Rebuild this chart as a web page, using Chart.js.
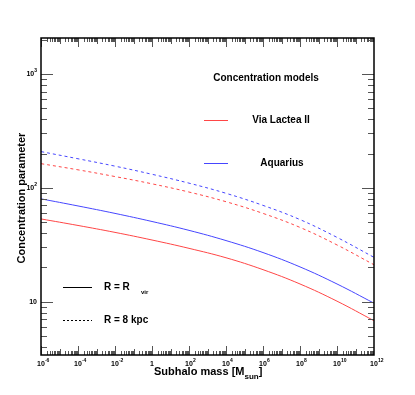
<!DOCTYPE html>
<html>
<head>
<title>Subhalo concentration</title>
<script src="https://cdn.jsdelivr.net/npm/chart.js"></script>
<style>body{margin:0;background:#fff}</style>
</head>
<body>
<canvas id="concChart" width="415" height="395"></canvas>
<script>
// values (mass in solar masses)
var subhaloMass = [1e-6, 1e-4, 1e-2, 1, 1e2, 1e4, 1e6, 1e8, 1e10, 1e12];
var vlRvir = [53.3, 46.7, 40.6, 34.8, 29.4, 24.3, 19.1, 14.3, 10.1, 6.8];
var aqRvir = [80.0, 69.3, 59.6, 50.6, 42.3, 34.4, 27.0, 20.2, 14.3, 9.7];
var vl8kpc = [163, 143.9, 125.6, 108.4, 91.8, 75.5, 59.6, 44.9, 31.5, 21.1];
var aq8kpc = [208, 180, 155, 131.5, 109.9, 89.5, 70.1, 52.6, 36.7, 24.5];
var xLabelExps = [-6, -4, -2, 0, 2, 4, 6, 8, 10, 12];
var yLabelExps = [1, 2, 3];

var red = 'rgb(255,70,70)';
var blue = 'rgb(70,70,255)';
var font = '"Liberation Sans", Arial, sans-serif';

function pts(ys) {
    return subhaloMass.map(function (m, i) { return {x: m, y: ys[i]}; });
}

function drawPow(ctx, exp, x, y, align) {
    ctx.textBaseline = 'middle';
    if (exp === 0) {
        ctx.font = 'bold 7px ' + font;
        ctx.textAlign = 'center';
        ctx.fillText('1', x, y);
        return;
    }
    ctx.font = 'bold 7px ' + font;
    var w1 = ctx.measureText('10').width;
    var sup = exp === 1 ? '' : String(exp);
    ctx.font = 'bold 5px ' + font;
    var w2 = sup ? ctx.measureText(sup).width : 0;
    var x0 = align === 'right' ? x - w1 - w2 : x - w1 / 2;
    ctx.textAlign = 'left';
    ctx.font = 'bold 7px ' + font;
    ctx.fillText('10', x0, y);
    if (sup) {
        ctx.font = 'bold 5px ' + font;
        ctx.fillText(sup, x0 + w1, y - 3);
    }
}

var framePlugin = {
    id: 'frame',
    afterDatasetsDraw: function (chart) {
        var ctx = chart.ctx, a = chart.chartArea;
        var xs = chart.scales.x, ys = chart.scales.y;
        ctx.save();
        // tick marks on all four sides
        ctx.strokeStyle = '#555';
        ctx.lineWidth = 1;
        ctx.beginPath();
        for (var e = -6; e < 12; e++) {
            for (var k = 1; k <= 9; k++) {
                var px = Math.round(xs.getPixelForValue(k * Math.pow(10, e))) + 0.5;
                var len = k === 1 ? (e % 2 === 0 ? 9 : 6) : 4;
                ctx.moveTo(px, a.bottom); ctx.lineTo(px, a.bottom - len);
                ctx.moveTo(px, a.top); ctx.lineTo(px, a.top + len);
            }
        }
        for (var e2 = 0; e2 <= 3; e2++) {
            for (var k2 = 1; k2 <= 9; k2++) {
                var v = k2 * Math.pow(10, e2);
                if (v < ys.min || v > ys.max) continue;
                var py = Math.round(ys.getPixelForValue(v)) + 0.5;
                var l2 = k2 === 1 ? 12 : 6;
                ctx.moveTo(a.left, py); ctx.lineTo(a.left + l2, py);
                ctx.moveTo(a.right, py); ctx.lineTo(a.right - l2, py);
            }
        }
        ctx.stroke();
        ctx.strokeStyle = '#000';
        ctx.lineWidth = 1.5;
        ctx.strokeRect(a.left, a.top, a.right - a.left, a.bottom - a.top);

        // tick labels
        ctx.fillStyle = '#000';
        xLabelExps.forEach(function (e) {
            drawPow(ctx, e, xs.getPixelForValue(Math.pow(10, e)), a.bottom + 9, 'center');
        });
        yLabelExps.forEach(function (e) {
            drawPow(ctx, e, a.left - 4, ys.getPixelForValue(Math.pow(10, e)), 'right');
        });

        // axis titles
        ctx.font = 'bold 11px ' + font;
        ctx.textBaseline = 'middle';
        ctx.textAlign = 'left';
        var t1 = 'Subhalo mass [M';
        var tw = ctx.measureText(t1).width;
        var tx = 154;
        ctx.fillText(t1, tx, 372);
        ctx.font = 'bold 8px ' + font;
        ctx.fillText('sun', tx + tw, 377);
        var sw = ctx.measureText('sun').width;
        ctx.font = 'bold 11px ' + font;
        ctx.fillText(']', tx + tw + sw, 372);

        ctx.save();
        ctx.translate(22, 198);
        ctx.rotate(-Math.PI / 2);
        ctx.textAlign = 'center';
        ctx.fillText('Concentration parameter', 0, 0);
        ctx.restore();

        // legend drawn inside the frame
        ctx.font = 'bold 10px ' + font;
        ctx.textAlign = 'center';
        ctx.fillText('Concentration models', 266, 78);
        ctx.fillText('Via Lactea II', 281, 120);
        ctx.fillText('Aquarius', 282, 163);
        ctx.textAlign = 'left';
        ctx.fillText('R = R', 104, 287);
        ctx.font = 'bold 6px ' + font;
        ctx.fillText('vir', 141, 292);
        ctx.font = 'bold 10px ' + font;
        ctx.fillText('R = 8 kpc', 104, 320);

        ctx.lineWidth = 1;
        ctx.setLineDash([]);
        ctx.strokeStyle = red;
        ctx.beginPath(); ctx.moveTo(204, 120.5); ctx.lineTo(228, 120.5); ctx.stroke();
        ctx.strokeStyle = blue;
        ctx.beginPath(); ctx.moveTo(204, 163.5); ctx.lineTo(228, 163.5); ctx.stroke();
        ctx.strokeStyle = '#000';
        ctx.beginPath(); ctx.moveTo(63, 287.5); ctx.lineTo(92, 287.5); ctx.stroke();
        ctx.setLineDash([2, 2]);
        ctx.beginPath(); ctx.moveTo(63, 320.5); ctx.lineTo(92, 320.5); ctx.stroke();
        ctx.restore();
    }
};

function series(label, ys, color, dashed) {
    return {
        label: label,
        data: pts(ys),
        borderColor: color,
        borderWidth: 1,
        borderDash: dashed ? [3, 3] : [],
        pointRadius: 0,
        fill: false,
        tension: 0.4
    };
}

var ctx = document.getElementById('concChart').getContext('2d');
var concChart = new Chart(ctx, {
    type: 'line',
    data: {
        datasets: [
            series('Via Lactea II, R = Rvir', vlRvir, red, false),
            series('Aquarius, R = Rvir', aqRvir, blue, false),
            series('Via Lactea II, R = 8 kpc', vl8kpc, red, true),
            series('Aquarius, R = 8 kpc', aq8kpc, blue, true)
        ]
    },
    options: {
        responsive: false,
        animation: false,
        layout: {padding: {top: 38, right: 41, left: 0, bottom: 0}},
        plugins: {legend: {display: false}, tooltip: {enabled: false}},
        scales: {
            x: {
                type: 'logarithmic',
                min: 1e-6,
                max: 1e12,
                grid: {display: false},
                border: {display: false},
                ticks: {display: false},
                afterFit: function (s) { s.height = 40; }
            },
            y: {
                type: 'logarithmic',
                min: 3.4,
                max: 2070,
                grid: {display: false},
                border: {display: false},
                ticks: {display: false},
                afterFit: function (s) { s.width = 41; }
            }
        }
    },
    plugins: [framePlugin]
});
</script>
</body>
</html>
